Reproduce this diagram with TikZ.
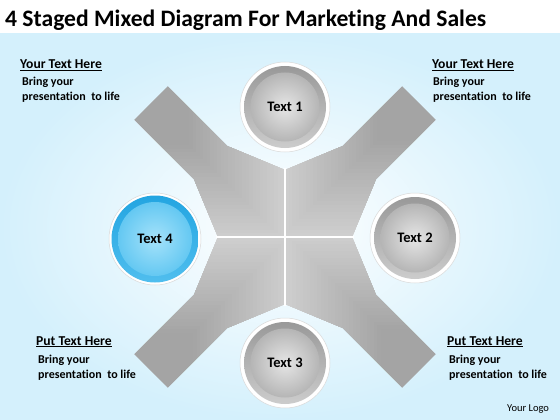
\documentclass[tikz,border=0pt]{standalone}
\usepackage{fontspec}
\setmainfont{Carlito}[Ligatures=NoCommon]
\definecolor{bgblue}{RGB}{212,240,252}
\definecolor{armdark}{RGB}{164,164,164}
\definecolor{armlight}{RGB}{214,214,214}
\definecolor{bluering}{RGB}{35,165,225}
\definecolor{bluering2}{RGB}{80,190,238}
\definecolor{bluein}{RGB}{165,226,250}
\definecolor{blueout}{RGB}{100,200,242}
\newcommand\quadarm[4]{%
 \begin{scope}[shift={(285,237)}, x={(#1pt,#2pt)}, y={(#3pt,#4pt)}]
  \begin{scope}
   \clip (0,0) -- (47.4,-47.4) -- (105,-23.5) -- (189,-23.5) -- (189,23.5) -- (105,23.5) -- (47.4,47.4) -- cycle;
   \foreach \i in {0,...,38} {
     \pgfmathsetmacro\p{min(100,max(0,(\i*5-30)/160*100))}
     \fill[armdark!\p!armlight] (\i*5,-60) rectangle (\i*5+5.6,60);
   }
  \end{scope}
 \end{scope}}
\newcommand\graydisc[3]{%
 \fill[white] #2 circle (45);
 \draw[gray!30, line width=0.5pt] #2 circle (45);
 \shade[top color=gray!80, bottom color=gray!40] #2 circle (41);
 \shade[inner color=gray!20, outer color=gray!58] #2 circle (34.5);
 \node[txtc] (#1) at #2 {#3};}
\tikzset{
 txtc/.style={font=\bfseries\fontsize{14.5}{16}\selectfont, inner sep=0},
 head/.style={anchor=base west, inner sep=0, font=\bfseries\fontsize{13.6}{15}\selectfont},
 body/.style={anchor=base west, inner sep=0, font=\bfseries\fontsize{12}{14}\selectfont},
}
\begin{document}
\begin{tikzpicture}[x=1pt,y=-1pt]
\useasboundingbox (0,0) rectangle (560,420);
\fill[white] (0,0) rectangle (560,420);
\shade[inner color=white, outer color=bgblue] (0,34) rectangle (560,420);
% X arms
\quadarm{-0.7071}{0.7071}{0.7071}{0.7071}
\quadarm{0.7071}{0.7071}{0.7071}{-0.7071}
\quadarm{0.7071}{-0.7071}{-0.7071}{-0.7071}
\quadarm{-0.7071}{-0.7071}{-0.7071}{0.7071}
\draw[white, line width=1.6pt] (285,168) -- (285,306);
\draw[white, line width=1.6pt] (216,237) -- (354,237);
% circles
\graydisc{t1}{(285,107)}{Text 1}
\graydisc{t2}{(415,238)}{Text 2}
\graydisc{t3}{(285,363)}{Text 3}
\fill[white] (155,239) circle (46);
\draw[gray!30, line width=0.5pt] (155,239) circle (46);
\shade[top color=bluering, bottom color=bluering2] (155,239) circle (43.5);
\shade[inner color=bluein, outer color=blueout] (155,239) circle (37);
\node[txtc] (t4) at (155,239) {Text 4};
% title
\node[anchor=base west, inner sep=0, font=\bfseries\fontsize{23.6}{26}\selectfont] (title) at (5,27) {4 Staged Mixed Diagram For Marketing And Sales};
% corner texts
\node[head] (tlh) at (20,69) {\underline{Your Text Here}};
\node[body] (tl1) at (22,86) {Bring your};
\node[body] (tl2) at (22,101) {presentation\ \ to life};
\node[head] (trh) at (432,69) {\underline{Your Text Here}};
\node[body] (tr1) at (433,86) {Bring your};
\node[body] (tr2) at (433,101) {presentation\ \ to life};
\node[head] (blh) at (36,345) {\underline{Put Text Here}};
\node[body] (bl1) at (38,363) {Bring your};
\node[body] (bl2) at (38,378) {presentation\ \ to life};
\node[head] (brh) at (447,345) {\underline{Put Text Here}};
\node[body] (br1) at (449,363) {Bring your};
\node[body] (br2) at (449,378) {presentation\ \ to life};
\node[anchor=base west, inner sep=0, font=\fontsize{10.5}{12}\selectfont] (logo) at (507,411) {Your Logo};
\end{tikzpicture}
\end{document}
